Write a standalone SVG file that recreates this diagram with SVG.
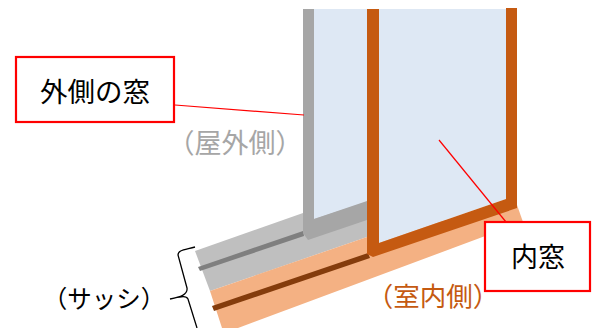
<svg xmlns="http://www.w3.org/2000/svg" width="593" height="328" viewBox="0 0 593 328">
<style>
text{font-family:"Noto Sans CJK JP","Noto Sans CJK SC",sans-serif;font-size:27px;text-anchor:middle}
.callout{fill:#fff;stroke:#f00;stroke-width:2.2}
.lead{fill:none;stroke:#f00;stroke-width:1.2}
.sash{fill:#c55a11}
</style>
<g id="sill">
<polygon points="195,251 303,213 370,190 370,236 210,291" fill="#bfbfbf"/>
<polygon points="210,291 367,237 517,205 523,222 238,328 222,328" fill="#f4b183"/>
<polygon points="198,267 303,231 304,236 200,271" fill="#7f7f7f"/>
<polygon points="212,306 368,253 370,258 214,311" fill="#843c0c"/>
</g>
<g id="outer-window">
<polygon points="314,9 370,9 370,201 314,219" fill="#dee8f4"/>
<polygon points="303,9 314,9 314,219 367,201 367,220 308,240 303,233" fill="#a6a6a6"/>
</g>
<g id="inner-window">
<polygon points="379,9 506,9 506,199 379,243" fill="#dee8f4"/>
<polygon class="sash" points="367,9 379,9 379,243 506,199 506,8 517,8 517,208 373,257 367,254"/>
</g>
<g id="connectors">
<line class="lead" x1="175" y1="105" x2="304" y2="115"/>
<line class="lead" x1="439" y1="140" x2="506" y2="222"/>
<path d="M195,247 C184,250 178,250 178,255 L187,288 C188,295 180,297 170,299 C180,297 186,295 188,299 L197,328" fill="none" stroke="#000" stroke-width="1.3"/>
</g>
<g id="outer-label">
<rect class="callout" x="16" y="57" width="158" height="65"/>
<text x="95" y="102" style="font-size:27.5px">外側の窓</text>
</g>
<g id="inner-label">
<rect class="callout" x="485" y="222" width="105" height="69"/>
<text x="538" y="267">内窓</text>
</g>
<text id="outside" x="235" y="153" fill="#a6a6a6">（屋外側）</text>
<text id="inside" x="433" y="306" fill="#c55a11" style="font-size:26.5px">（室内側）</text>
<text id="sash-label" x="104" y="308" fill="#000" style="font-size:24.5px">（サッシ）</text>
</svg>
